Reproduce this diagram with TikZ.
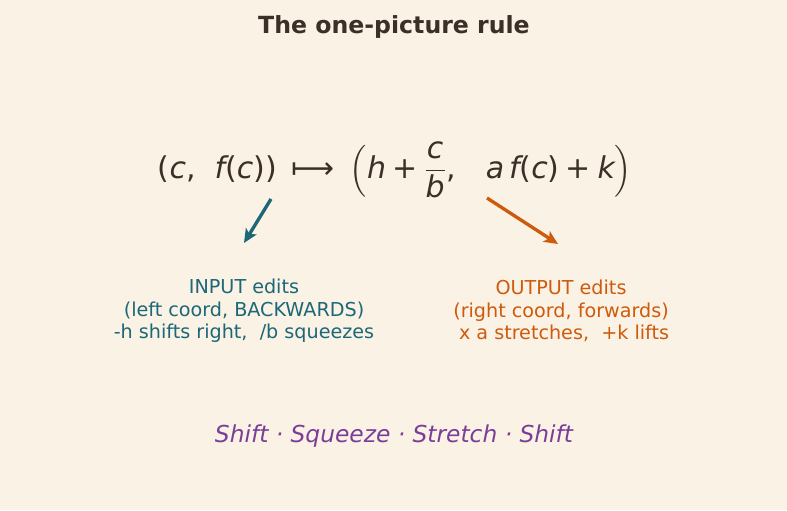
\documentclass[tikz,border=0pt]{standalone}
\usepackage{amsmath}
\usepackage{fontspec}
\setmainfont{DejaVu Sans}
\usepackage{xcolor}
\usepackage{tikz}
\usetikzlibrary{arrows.meta,positioning}
\definecolor{rlBg}{HTML}{FAF2E4}
\definecolor{rlInk}{HTML}{3B2F27}
\definecolor{rlIn}{HTML}{1C6778}
\definecolor{rlOut}{HTML}{CF5A0C}
\definecolor{rlNote}{HTML}{7B3E98}
\newcommand\mi[1]{\text{\itshape #1}}
\newcommand\pl{\mathbin{\text{+}}}
\newcommand\lp{\text{(}}
\newcommand\rp{\text{)}}
\newcommand\cm{\text{,}}
\tikzset{
  title/.style={font=\fontsize{17}{20}\selectfont\bfseries, text=rlInk, inner sep=0pt},
  formula/.style={font=\fontsize{21.6}{26}\selectfont, text=rlInk, inner sep=0pt},
  edit/.style={font=\fontsize{13.8}{16.1}\selectfont, align=center, inner sep=0pt, text=#1},
  pointer/.style={-{Stealth[length=10pt,width=9pt,inset=2.5pt]}, line width=2.4pt, draw=#1},
  motto/.style={font=\fontsize{16.8}{20}\selectfont\itshape, text=rlNote, inner sep=0pt},
}
\begin{document}
\begin{tikzpicture}[x=0.72pt, y=-0.72pt]
% --- canvas
\fill[rlBg] (0,0) rectangle (787,510);
% --- title
\node[title] (ttl) at (394,27) {The one-picture rule};
% --- the map
\node[formula] (map) at (395,170) {$\lp\mi{c}\cm\ \ \mi{f}\lp\mi{c}\rp\rp\enspace\text{⟼}\enspace\Bigl(\mi{h}\pl\dfrac{\mi{c}}{\mi{b}}\cm\quad\mi{a}\,\mi{f}\lp\mi{c}\rp\pl\mi{k}\Bigr)$};
% --- pointers
\coordinate (inS) at (271,199);
\coordinate (inE) at (244,243);
\coordinate (outS) at (487,198);
\coordinate (outE) at (558,244);
\draw[pointer=rlIn] (inS) -- (inE);
\draw[pointer=rlOut] (outS) -- (outE);
% --- notes
\node[edit=rlIn] (inNote) at (244,311) {INPUT edits\\(left coord, BACKWARDS)\\-h shifts right,\ \ /b squeezes};
\node[edit=rlOut] (outNote) at (561,311) {OUTPUT edits\\(right coord, forwards)\\\ x a stretches,\ \ +k lifts};
% --- motto
\node[motto] (mot) at (394,436) {Shift · Squeeze · Stretch · Shift};
\end{tikzpicture}
\end{document}
